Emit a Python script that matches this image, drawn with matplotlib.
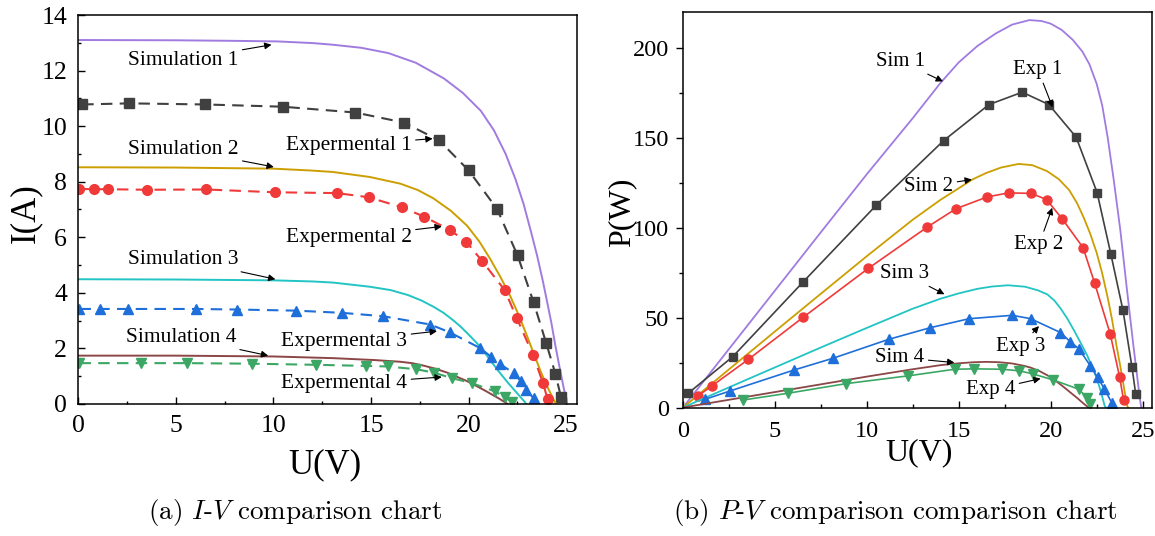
import matplotlib
matplotlib.use("Agg")
import matplotlib.pyplot as plt
from matplotlib.ticker import MultipleLocator

plt.rcParams['font.family'] = ['Liberation Serif', 'DejaVu Serif']
plt.rcParams['mathtext.fontset'] = 'cm'

# ---------- I-V data (left panel) ----------
sim1_u = [0, 5, 8, 10.2, 12, 13.05, 14.5, 15.89, 17.3, 18.73, 19.7, 20.63, 21.3, 21.9,
          22.4, 22.82, 23.2, 23.51, 23.8, 24.02, 24.25, 24.45, 24.67, 24.87, 25.05]
sim1_i = [13.1, 13.09, 13.07, 13.05, 12.99, 12.93, 12.82, 12.63, 12.28, 11.72, 11.2,
          10.55, 9.85, 9.0, 8.1, 7.2, 6.2, 5.35, 4.45, 3.7, 2.9, 2.1, 1.3, 0.6, 0.0]
exp1_u = [0.2, 2.62, 6.51, 10.47, 14.2, 16.68, 18.49, 20.0, 21.46, 22.51, 23.33, 23.98, 24.45, 24.74]
exp1_i = [10.78, 10.82, 10.78, 10.7, 10.49, 10.13, 9.49, 8.41, 7.02, 5.35, 3.67, 2.19, 1.09, 0.24]

sim2_u = [0, 5, 10, 12, 13.05, 14.94, 16.5, 17.4, 18.2, 19.1, 19.92, 20.55, 21.11, 21.65,
          22.14, 22.6, 23.0, 23.35, 23.68, 23.95, 24.19, 24.4, 24.5]
sim2_i = [8.52, 8.51, 8.47, 8.4, 8.35, 8.17, 7.93, 7.7, 7.4, 6.95, 6.42, 5.85, 5.22, 4.55,
          3.88, 3.15, 2.44, 1.8, 1.2, 0.75, 0.4, 0.1, 0.0]
exp2_u = [0.06, 0.82, 1.52, 3.51, 6.55, 10.07, 13.27, 14.88, 16.58, 17.73, 19.03, 19.88,
          20.69, 21.85, 22.48, 23.3, 23.82, 24.05]
exp2_i = [7.74, 7.73, 7.73, 7.71, 7.72, 7.62, 7.59, 7.44, 7.08, 6.74, 6.27, 5.84,
          5.15, 4.10, 3.08, 1.77, 0.75, 0.17]

sim3_u = [0, 5, 10, 12, 13.05, 14.94, 16.0, 16.9, 17.6, 18.2, 18.72, 19.2, 19.6, 20.0,
          20.43, 20.9, 21.3, 21.63, 22.0, 22.35, 22.65, 22.85, 22.96]
sim3_i = [4.49, 4.48, 4.45, 4.41, 4.37, 4.22, 4.1, 3.92, 3.72, 3.5, 3.28, 3.02, 2.78, 2.5,
          2.19, 1.78, 1.4, 1.1, 0.78, 0.5, 0.26, 0.1, 0.0]
exp3_u = [0.06, 1.1, 2.53, 6.03, 8.12, 11.15, 13.52, 15.6, 18.04, 19.03, 20.6, 21.15,
          21.59, 22.31, 22.7, 22.96, 23.33]
exp3_i = [3.42, 3.42, 3.42, 3.42, 3.40, 3.36, 3.28, 3.16, 2.86, 2.58, 2.01, 1.70,
          1.45, 1.11, 0.81, 0.51, 0.21]

sim4_u = [0, 5, 10, 13.05, 15.2, 16.49, 17.1, 17.7, 18.3, 18.9, 19.4, 19.9, 20.4, 20.9,
          21.3, 21.6, 21.85, 22.0]
sim4_i = [1.74, 1.74, 1.71, 1.65, 1.58, 1.52, 1.47, 1.38, 1.27, 1.13, 0.98, 0.83, 0.65,
          0.46, 0.3, 0.18, 0.07, 0.0]
exp4_u = [0.06, 3.19, 5.56, 8.88, 12.2, 14.75, 15.85, 17.32, 18.21, 19.15, 20.17, 21.37, 21.88, 22.23]
exp4_i = [1.47, 1.47, 1.47, 1.45, 1.41, 1.37, 1.35, 1.25, 1.13, 0.93, 0.75, 0.45, 0.24, 0.08]

# ---------- P-V data (right panel) ----------
psim1_u = [0, 2.5, 5, 7.5, 10, 12.5, 14, 15, 16, 17, 17.9, 18.84, 19.5, 20, 20.6, 21.2,
           21.72, 22.1, 22.5, 22.8, 23.1, 23.42, 23.78, 24.14, 24.5, 24.83, 24.92]
psim1_p = [0, 32.5, 65, 97.5, 129.8, 161, 180.5, 192, 201, 208, 213, 215.5, 215, 213.5,
           210, 204.5, 198, 191, 180, 168, 150, 127, 99, 66, 34, 6.4, 0]
pexp1_u = [0.27, 2.71, 6.53, 10.52, 14.18, 16.64, 18.45, 19.9, 21.38, 22.52, 23.27,
           23.93, 24.42, 24.62]
pexp1_p = [7.8, 28.3, 69.8, 112.6, 148.5, 168.5, 175.4, 168.5, 150.4, 119.6, 85.3,
           54.0, 22.3, 7.5]

psim2_u = [0, 2.5, 5, 7.5, 10, 12.5, 14, 15, 15.75, 16.5, 17.3, 18.26, 19, 19.8, 20.44,
           21, 21.44, 21.8, 22.16, 22.5, 22.79, 23.1, 23.33, 23.6, 23.78, 24.0, 24.14, 24.2]
psim2_p = [0, 21.2, 42.3, 63.3, 84.2, 104.5, 115.5, 122, 126.9, 130.5, 133.5, 135.5, 134.8,
           131.5, 127, 121, 113.5, 105.5, 96.3, 86, 75, 61, 49.1, 33, 23.1, 10, 1.5, 0]
pexp2_u = [0.81, 1.57, 3.56, 6.54, 10.08, 13.29, 14.85, 16.56, 17.73, 18.94, 19.77,
           20.62, 21.76, 22.39, 23.24, 23.74, 23.96]
pexp2_p = [6.4, 12.0, 26.8, 50.2, 77.4, 100.4, 110.6, 117.2, 119.4, 119.1, 115.7,
           105.0, 88.9, 69.1, 40.7, 17.2, 4.2]

psim3_u = [0, 2.5, 5, 7.5, 10, 12.5, 14, 15, 16, 16.8, 17.68, 18.6, 19.3, 19.82, 20.2,
           20.53, 20.9, 21.26, 21.6, 21.98, 22.3, 22.52, 22.75, 22.93, 23.0]
psim3_p = [0, 11.2, 22.3, 33.4, 44.3, 55, 60.5, 63.5, 66, 67.3, 68, 67.2, 65.2, 62.9, 59.5,
           55.2, 49.5, 43, 36.5, 29, 21.5, 15.7, 8, 1, 0]
pexp3_u = [1.21, 2.56, 6.05, 8.16, 11.18, 13.45, 15.56, 17.91, 18.91, 20.53, 21.07,
           21.52, 22.16, 22.55, 22.91, 23.33]
pexp3_p = [4.6, 9.2, 20.9, 27.4, 37.9, 44.4, 49.4, 51.3, 49.4, 41.7, 36.5, 32.8,
           23.1, 16.7, 10.5, 2.4]

psim4_u = [0, 2.5, 5, 7.5, 10, 12.5, 14.03, 15, 15.8, 16.5, 17.2, 17.9, 18.5, 18.91, 19.4,
           19.82, 20.3, 20.72, 21.1, 21.44, 21.75, 21.98, 22.05]
psim4_p = [0, 4.3, 8.6, 12.9, 17.2, 21.3, 23.6, 24.6, 25.2, 25.4, 25.2, 24.5, 23.3, 22.2,
           20.2, 17.9, 14.6, 11.3, 8.1, 5.3, 2.5, 0.6, 0]
pexp4_u = [3.29, 5.69, 8.88, 12.23, 14.79, 15.85, 17.35, 18.3, 19.03, 20.12, 21.52,
           21.98, 22.16]
pexp4_p = [4.2, 7.9, 13.3, 17.6, 21.3, 21.5, 21.3, 20.4, 18.7, 15.4, 10.2, 5.5, 1.8]

# colours
c_sim1, c_exp1 = '#a07be0', '#404040'
c_sim2, c_exp2 = '#cc9e00', '#f03a3a'
c_sim3, c_exp3 = '#22c4c4', '#1e6fd9'
c_sim4, c_exp4 = '#8c4646', '#3ca764'

fig = plt.figure(figsize=(11.55, 5.36), dpi=100)
ax1 = fig.add_axes([0.0678, 0.2463, 0.4318, 0.7257])
ax2 = fig.add_axes([0.5913, 0.2397, 0.4060, 0.7379])

# ---- left: I-V ----
dash = (0, (5.5, 3.5))
ax1.plot(sim1_u, sim1_i, color=c_sim1, lw=1.4)
ax1.plot(exp1_u, exp1_i, color=c_exp1, lw=1.5, ls=dash, marker='s', ms=6.5)
ax1.plot(sim2_u, sim2_i, color=c_sim2, lw=1.4)
ax1.plot(exp2_u, exp2_i, color=c_exp2, lw=1.5, ls=dash, marker='o', ms=7)
ax1.plot(sim3_u, sim3_i, color=c_sim3, lw=1.4)
ax1.plot(exp3_u, exp3_i, color=c_exp3, lw=1.5, ls=dash, marker='^', ms=7)
ax1.plot(sim4_u, sim4_i, color=c_sim4, lw=1.4)
ax1.plot(exp4_u, exp4_i, color=c_exp4, lw=1.5, ls=dash, marker='v', ms=7)

ax1.set_xlim(0, 25.56)
ax1.set_ylim(0, 14)
ax1.xaxis.set_major_locator(MultipleLocator(5))
ax1.xaxis.set_minor_locator(MultipleLocator(2.5))
ax1.yaxis.set_major_locator(MultipleLocator(2))
ax1.yaxis.set_minor_locator(MultipleLocator(1))
ax1.tick_params(which='both', direction='in', labelsize=18.5, pad=8, width=1)
ax1.tick_params(which='major', length=5)
ax1.tick_params(which='minor', length=2.5)

arrow = dict(arrowstyle='-|>', color='black', lw=0.8, mutation_scale=10, shrinkA=1, shrinkB=0)
notes1 = [("Simulation 1", (5.37, 12.38), (9.9, 12.93)),
          ("Expermental 1", (13.85, 9.31), (18.16, 9.55)),
          ("Simulation 2", (5.37, 9.16), (10.02, 8.53)),
          ("Expermental 2", (13.85, 5.99), (18.63, 6.39)),
          ("Simulation 3", (5.37, 5.21), (10.1, 4.49)),
          ("Expermental 3", (13.62, 2.25), (18.38, 2.62)),
          ("Simulation 4", (5.27, 2.41), (9.73, 1.74)),
          ("Expermental 4", (13.62, 0.72), (18.63, 0.97))]
for txt, pos, tip in notes1:
    ax1.annotate(txt, xy=tip, xytext=pos, ha='center', va='center',
                 fontsize=15.5, arrowprops=arrow)

# ---- right: P-V ----
ax2.plot(psim1_u, psim1_p, color=c_sim1, lw=1.3)
ax2.plot(pexp1_u, pexp1_p, color=c_exp1, lw=1.2, marker='s', ms=6)
ax2.plot(psim2_u, psim2_p, color=c_sim2, lw=1.3)
ax2.plot(pexp2_u, pexp2_p, color=c_exp2, lw=1.2, marker='o', ms=6.5)
ax2.plot(psim3_u, psim3_p, color=c_sim3, lw=1.3)
ax2.plot(pexp3_u, pexp3_p, color=c_exp3, lw=1.2, marker='^', ms=6.5)
ax2.plot(psim4_u, psim4_p, color=c_sim4, lw=1.3)
ax2.plot(pexp4_u, pexp4_p, color=c_exp4, lw=1.2, marker='v', ms=6.5)

ax2.set_xlim(0, 25.5)
ax2.set_ylim(0, 220)
ax2.xaxis.set_major_locator(MultipleLocator(5))
ax2.xaxis.set_minor_locator(MultipleLocator(2.5))
ax2.yaxis.set_major_locator(MultipleLocator(50))
ax2.yaxis.set_minor_locator(MultipleLocator(25))
ax2.tick_params(which='both', labelsize=17.5, width=1)
ax2.tick_params(axis='x', which='both', direction='in', pad=10)
ax2.tick_params(axis='y', which='both', direction='out', pad=5)
ax2.tick_params(which='major', length=5)
ax2.tick_params(which='minor', length=3)

notes2 = [("Sim 1", (11.84, 192.6), (14.14, 181.4)),
          ("Exp 1", (19.3, 188), (20.1, 167)),
          ("Sim 2", (13.36, 123.1), (15.71, 126.8)),
          ("Exp 2", (19.36, 90.5), (20.08, 111.1)),
          ("Sim 3", (12.03, 74.6), (14.22, 63)),
          ("Exp 3", (18.36, 34.2), (19.36, 45.3)),
          ("Sim 4", (11.79, 27.8), (14.76, 25)),
          ("Exp 4", (16.72, 9.8), (19.45, 16.1))]
for txt, pos, tip in notes2:
    ax2.annotate(txt, xy=tip, xytext=pos, ha='center', va='center',
                 fontsize=15, arrowprops=arrow)

for ax in (ax1, ax2):
    for s in ax.spines.values():
        s.set_linewidth(1.1)

# axis labels
fig.text(26 / 1155, 1 - 213 / 536, "I(A)", rotation=90, ha='center', va='center', fontsize=25)
fig.text(325 / 1155, 1 - 465 / 536, "U(V)", ha='center', va='center', fontsize=25)
fig.text(622 / 1155, 1 - 212 / 536, "P(W)", rotation=90, ha='center', va='center', fontsize=23)
fig.text(919 / 1155, 1 - 453 / 536, "U(V)", ha='center', va='center', fontsize=23)

# captions
fig.text(295 / 1155, 1 - 513 / 536, r"(a) $I$-$V$ comparison chart",
         ha='center', va='center', fontsize=19.5, family='cmr10')
fig.text(895 / 1155, 1 - 513 / 536, r"(b) $P$-$V$ comparison comparison chart",
         ha='center', va='center', fontsize=19.5, family='cmr10')

fig.savefig("out.png", dpi=100)
